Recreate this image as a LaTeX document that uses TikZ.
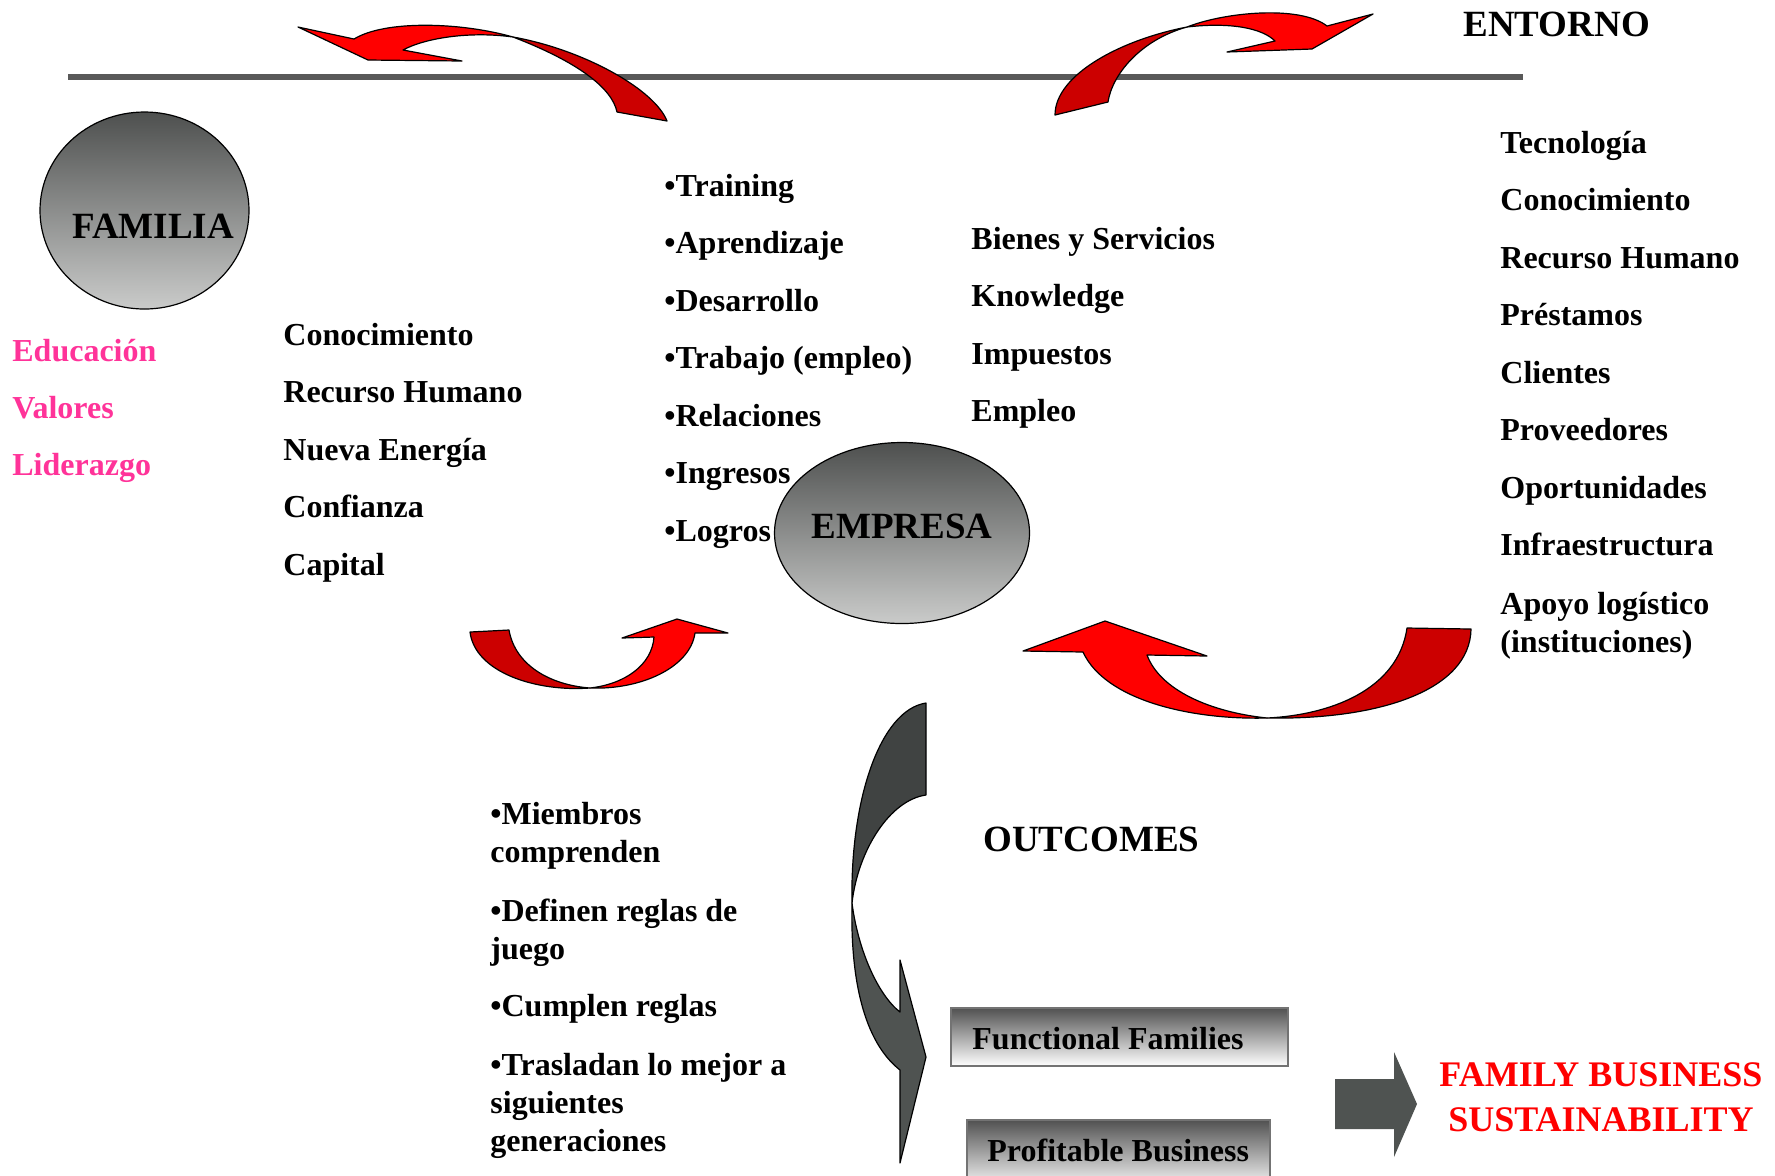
\documentclass[tikz,border=0pt]{standalone}
\usepackage{fontspec}
\setmainfont{Liberation Serif}
\usepackage{xcolor}
\usetikzlibrary{shapes.geometric}
\definecolor{color_red_front}{HTML}{ff0000}
\definecolor{color_red_back}{HTML}{cc0000}
\definecolor{color_gray_front}{HTML}{4f5351}
\definecolor{color_gray_back}{HTML}{404342}
\definecolor{color_pink}{HTML}{ff3399}
\definecolor{color_rule}{HTML}{595959}
\definecolor{color_shade_dark}{HTML}{4e504f}
\definecolor{color_shade_light}{HTML}{cacbca}
\tikzset{
	txt/.style={anchor=base west, inner sep=0pt, align=left, font=\fontsize{16}{19}\selectfont\bfseries},
	bigtxt/.style={inner sep=0pt, font=\fontsize{18.5}{22.5}\selectfont\bfseries},
	blob/.style={ellipse, draw=black, line width=0.6pt, inner sep=0pt,
		top color=color_shade_dark, bottom color=color_shade_light},
	bar/.style={draw=black!55, line width=0.6pt, inner sep=0pt,
		top color=black!68, bottom color=white},
	front/.style={fill=color_red_front, draw=black, line width=0.6pt, line join=round},
	back/.style={fill=color_red_back, draw=black, line width=0.6pt, line join=round}
}

\begin{document}
\begin{tikzpicture}[x=0.5pt,y=-0.5pt]
	\useasboundingbox (0, 0) rectangle (1775, 1175);
	% Points
	\coordinate (RL) at (68, 77);
	\coordinate (RR) at (1523, 77);
	
	% Rule
	\draw[line width=3pt, color_rule] (RL) -- (RR);
	\node[bigtxt, anchor=base west] (entorno) at (1463, 36) {ENTORNO};
	
	% Top arrows
	\draw[back]
		(513,37) .. controls (585,50) and (655,90) .. (667,121) --
		(617,112) .. controls (612,88) and (578,62) .. (513,37) -- cycle;
	\draw[front]
		(298,27) -- (368,60) -- (462,61) -- (403,50)
		.. controls (425,38) and (470,31) .. (513,37)
		.. controls (460,22) and (385,20) .. (354,39) -- cycle;
	\draw[back]
		(1055,115) -- (1108,102) .. controls (1112,75) and (1140,40) .. (1187,27)
		.. controls (1120,40) and (1055,75) .. (1055,115) -- cycle;
	\draw[front]
		(1187,27) .. controls (1225,12) and (1300,5) .. (1327,26) --
		(1373,14) -- (1312,49) -- (1227,52) -- (1275,41)
		.. controls (1262,28) and (1230,22) .. (1187,27) -- cycle;
	
	% Familia
	\node[blob, minimum width=104.5pt, minimum height=98.5pt] (familia) at (144.5, 210.5) {};
	\node[bigtxt, anchor=base] (familiatxt) at (153, 238) {FAMILIA};
	\foreach \t [count=\i] in {Educación, Valores, Liderazgo}
		\node[txt, text=color_pink] (val\i) at (12, {361+57*(\i-1)}) {\t};
	\foreach \t [count=\i] in {Conocimiento, Recurso Humano, Nueva Energía, Confianza, Capital}
		\node[txt] (fam\i) at (283, {345+57.5*(\i-1)}) {\t};
	
	% Empresa
	\node[blob, minimum width=127.5pt, minimum height=90.5pt] (empresa) at (902, 533) {};
	\node[bigtxt, anchor=base] (empresatxt) at (902, 538) {EMPRESA};
	\foreach \t [count=\i] in {Training, Aprendizaje, Desarrollo, Trabajo (empleo), Relaciones, Ingresos, Logros}
		\node[txt] (emp\i) at (664, {196+57.5*(\i-1)}) {•\t};
	\foreach \t [count=\i] in {Bienes y Servicios, Knowledge, Impuestos, Empleo}
		\node[txt] (out\i) at (971, {249+57.5*(\i-1)}) {\t};
	
	% Entorno
	\foreach \t [count=\i] in {Tecnología, Conocimiento, Recurso Humano, Préstamos, Clientes, Proveedores, Oportunidades, Infraestructura}
		\node[txt] (ent\i) at (1500, {153+57.5*(\i-1)}) {\t};
	\node[txt] (ent9) at (1500, 652) {Apoyo logístico\\(instituciones)};
	
	% Bottom arrows
	\draw[back]
		(470,632) -- (509,630) .. controls (515,665) and (550,685) .. (590,688)
		.. controls (535,692) and (475,672) .. (470,632) -- cycle;
	\draw[front]
		(590,688) .. controls (625,684) and (652,665) .. (654,637) --
		(622,638) -- (677,619) -- (728,633) -- (695,633)
		.. controls (690,668) and (640,690) .. (590,688) -- cycle;
	\draw[front]
		(1267,718) .. controls (1210,712) and (1160,690) .. (1147,655) --
		(1207,656) -- (1105,621) -- (1023,651) -- (1083,652)
		.. controls (1105,700) and (1190,720) .. (1267,718) -- cycle;
	\draw[back]
		(1407,628) -- (1471,629) .. controls (1470,690) and (1380,720) .. (1267,718)
		.. controls (1330,715) and (1398,690) .. (1407,628) -- cycle;
	
	% Outcomes
	\draw[fill=color_gray_back, draw=black, line width=0.6pt, line join=round]
		(926,703) -- (926,795) .. controls (890,800) and (858,850) .. (852,903)
		.. controls (850,800) and (880,710) .. (926,703) -- cycle;
	\draw[fill=color_gray_front, draw=black, line width=0.6pt, line join=round]
		(852,903) .. controls (858,950) and (878,995) .. (900,1012) --
		(900,960) -- (926,1057) -- (900,1163) -- (900,1070)
		.. controls (868,1045) and (850,990) .. (852,903) -- cycle;
	\node[bigtxt, anchor=base west] (outcomes) at (983, 851) {OUTCOMES};
	\node[txt] (res1) at (490, 862) {•Miembros\\comprenden};
	\node[txt] (res2) at (490, 959) {•Definen reglas de\\juego};
	\node[txt] (res3) at (490, 1016) {•Cumplen reglas};
	\node[txt] (res4) at (490, 1151) {•Trasladan lo mejor a\\siguientes\\generaciones};
	
	% Bars
	\node[bar, minimum width=168.5pt, minimum height=29pt] (ffbox) at (1119.5, 1037) {};
	\node[txt] (fftxt) at (972, 1049) {Functional Families};
	\node[bar, minimum width=151.5pt, minimum height=35pt] (pbbox) at (1118.5, 1155) {};
	\node[txt] (pbtxt) at (987, 1161) {Profitable Business};
	
	% Result
	\fill[color_gray_front]
		(1335,1079) -- (1394,1079) -- (1394,1052) -- (1417,1104) --
		(1394,1157) -- (1394,1129) -- (1335,1129) -- cycle;
	\node[bigtxt, anchor=base, align=center, text=red, font=\fontsize{18}{22.5}\selectfont\bfseries]
		(fbs) at (1601, 1131) {FAMILY BUSINESS\\SUSTAINABILITY};
\end{tikzpicture}
\end{document}
